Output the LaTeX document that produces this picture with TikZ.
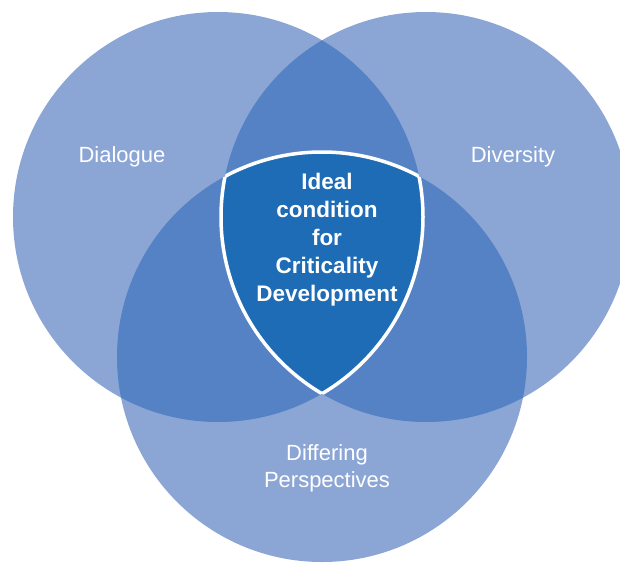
\documentclass[tikz,border=0pt]{standalone}
\usepackage{fontspec}
\setmainfont{Liberation Sans}
\definecolor{lightset}{RGB}{139,165,213}
\definecolor{pairset}{RGB}{84,130,197}
\definecolor{coreset}{RGB}{30,108,181}

\begin{document}
\begin{tikzpicture}[
  x=1pt, y=-1pt,
  set_label/.style={text=white, font=\fontsize{22}{27}\selectfont, align=center},
  core_label/.style={text=white, font=\fontsize{22.5}{28}\selectfont\bfseries, align=center},
  core_line/.style={draw=white, line width=3.5pt},
]
\useasboundingbox (0,0) rectangle (620,562);
\coordinate (dialogue) at (218,217);
\coordinate (diversity) at (426,217);
\coordinate (perspectives) at (322,357);
\def\setradius{205pt}
% three sets
\fill[lightset] (dialogue) circle[radius=\setradius];
\fill[lightset] (diversity) circle[radius=\setradius];
\fill[lightset] (perspectives) circle[radius=\setradius];
% overlaps of two
\begin{scope}
  \clip (dialogue) circle[radius=\setradius];
  \fill[pairset] (diversity) circle[radius=\setradius];
  \fill[pairset] (perspectives) circle[radius=\setradius];
\end{scope}
\begin{scope}
  \clip (diversity) circle[radius=\setradius];
  \fill[pairset] (perspectives) circle[radius=\setradius];
\end{scope}
% the core, with its white rim
\begin{scope}
  \clip (dialogue) circle[radius=\setradius];
  \clip (diversity) circle[radius=\setradius];
  \fill[coreset] (perspectives) circle[radius=\setradius];
  \draw[core_line] (perspectives) circle[radius=\setradius];
\end{scope}
\begin{scope}
  \clip (dialogue) circle[radius=\setradius];
  \clip (perspectives) circle[radius=\setradius];
  \draw[core_line] (diversity) circle[radius=\setradius];
\end{scope}
\begin{scope}
  \clip (diversity) circle[radius=\setradius];
  \clip (perspectives) circle[radius=\setradius];
  \draw[core_line] (dialogue) circle[radius=\setradius];
\end{scope}
\node (dialogue_label) [set_label] at (122,157) {Dialogue};
\node (diversity_label) [set_label] at (513,157) {Diversity};
\node (perspectives_label) [set_label] at (327,468) {Differing\\Perspectives};
\node (core_label) [core_label] at (327,240) {Ideal\\condition\\for\\Criticality\\Development};
\end{tikzpicture}
\end{document}
